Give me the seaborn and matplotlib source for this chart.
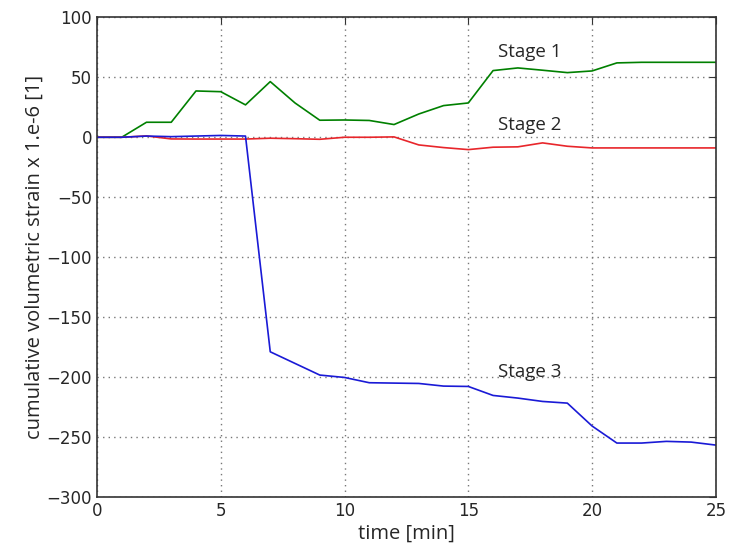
import matplotlib
matplotlib.use("Agg")
import matplotlib.pyplot as plt
import seaborn as sns
import pandas as pd

time_min = list(range(26))
stage1 = [0, 0, 12.5, 12.5, 38.6, 38, 27, 46.4, 28.6, 14.2, 14.4, 14, 10.6, 19.4, 26.4, 28.6,
          55.6, 57.8, 55.9, 53.9, 55.3, 62, 62.5, 62.5, 62.5, 62.5]
stage2 = [0, 0, 1.1, -1.4, -1.5, -1.5, -1.5, -0.8, -1.2, -1.7, 0, 0, 0.3, -6.4, -8.6, -10.3,
          -8.3, -8, -4.7, -7.5, -8.9, -8.9, -8.9, -8.9, -8.9, -8.9]
stage3 = [0, 0, 1, 0.5, 1, 1.5, 1, -178.9, -188.6, -198.3, -200.3, -204.7, -205, -205.3, -207.5,
          -207.8, -215.3, -217.5, -220.3, -221.7, -240.8, -255, -255, -253.6, -254.2, -256.7]
stage_names = ["Stage 1", "Stage 2", "Stage 3"]
label_pos = [(16.2, 71), (16.2, 10), (16.2, -196)]
colors = ["#008000", "#e8262b", "#1a1ad6"]

df = pd.concat([
    pd.DataFrame({"time": time_min, "strain": s, "stage": n})
    for s, n in zip([stage1, stage2, stage3], stage_names)
])

sns.set_style("white")
plt.rcParams["font.family"] = ["DejaVu Sans"]

fig = plt.figure(figsize=(7.29, 5.52), dpi=100)
ax = fig.add_axes([0.133, 0.0996, 0.849, 0.869])

sns.lineplot(data=df, x="time", y="strain", hue="stage", palette=colors,
             linewidth=1.2, legend=False, ax=ax)

for name, (lx, ly) in zip(stage_names, label_pos):
    ax.text(lx, ly, name, fontsize=13.5, family="Open Sans", va="center", ha="left")

ax.set_xlim(0, 25)
ax.set_ylim(-300, 100)
ax.set_xticks(range(0, 26, 5))
ax.set_yticks(range(-300, 101, 50))
ax.grid(True, linestyle=(0, (1, 3)), color="#777777", linewidth=1.0)
ax.tick_params(direction="in", top=True, right=True, labelsize=12, length=5, color="#333333")
for sp in ax.spines.values():
    sp.set_visible(True)
    sp.set_color("#333333")
    sp.set_linewidth(1.2)
ax.set_xlabel("time [min]", fontsize=14.5, family="Open Sans", labelpad=3)
ax.set_ylabel("cumulative volumetric strain x 1.e-6 [1]", fontsize=14.5, family="Open Sans", labelpad=1)

fig.savefig("out.png", dpi=100)
